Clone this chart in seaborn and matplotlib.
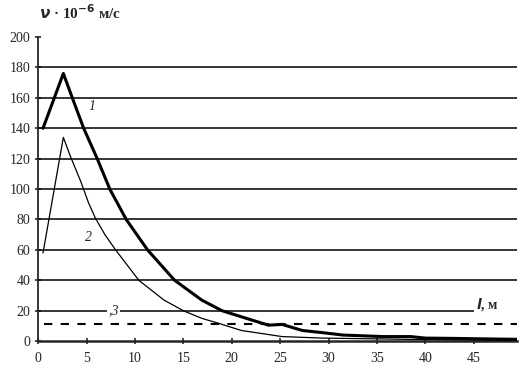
import numpy as np
import pandas as pd
import matplotlib
matplotlib.use("Agg")
import matplotlib.pyplot as plt
import seaborn as sns

# curve 1 (thick)
x1 = [0.5, 2.6, 3.7, 4.7, 6.1, 7.4, 9.1, 11.3, 14.1, 16.9, 19, 21.5, 23.8, 25.2,
      27.3, 29.5, 31.5, 35.6, 38.5, 40, 43, 46, 49.5]
y1 = [140, 176, 157, 140, 120, 100, 80, 60, 40, 27, 20, 15, 10.5, 11,
      7, 5.5, 4, 3, 3, 2, 1.8, 1.5, 1.2]
# curve 2 (thin)
x2 = [0.5, 2.6, 3.3, 4.4, 5.2, 5.9, 6.9, 8.0, 10.4, 13, 15, 16.9, 18.5, 21, 25.2, 29.4, 35, 40, 45, 49.5]
y2 = [58, 134, 122, 105, 91, 81, 70, 60, 40, 27, 20, 15, 12, 7, 3, 2, 1.5, 1, 0.8, 0.5]
# level 3 (dashed)
y3 = 11.5

grid_levels = [20, 40, 60, 80, 100, 120, 140, 160, 180]
xticks = [0, 5, 10, 15, 20, 25, 30, 35, 40, 45]
yticks = [0, 20, 40, 60, 80, 100, 120, 140, 160, 180, 200]

sns.set_style("ticks")
plt.rcParams['font.family'] = ['Liberation Serif', 'DejaVu Serif']

fig = plt.figure(figsize=(5.23, 3.70), dpi=100)
ax = fig.add_axes([0.073, 0.078, 0.916, 0.822])

xmax = 49.5
ends = [45 if g == 20 else xmax for g in grid_levels]
ax.hlines(grid_levels, 0, ends, colors='black', linewidth=1.1, zorder=1)
ax.axhline(y3, xmin=0.012, xmax=1, color='black', linewidth=1.5,
           linestyle=(0, (4, 4)), zorder=2)

d1 = pd.DataFrame({'x': x1, 'y': y1})
d2 = pd.DataFrame({'x': x2, 'y': y2})
sns.lineplot(data=d1, x='x', y='y', ax=ax, color='black', linewidth=2.2, sort=False, zorder=3)
sns.lineplot(data=d2, x='x', y='y', ax=ax, color='black', linewidth=0.9, sort=False, zorder=3)

ax.set_xlim(0, xmax)
ax.set_ylim(0, 200)
ax.set_xticks(xticks)
ax.set_yticks(yticks)
ax.tick_params(axis='both', labelsize=10, length=4, width=1.2, direction='inout')
ax.tick_params(axis='x', pad=6)
ax.set_xlabel('')
ax.set_ylabel('')
sns.despine(ax=ax)
ax.spines['left'].set_linewidth(1.3)
ax.spines['bottom'].set_linewidth(1.8)

ax.text(5.6, 154, '1', fontsize=10, style='italic', ha='center', va='center')
ax.text(5.2, 68, '2', fontsize=10, style='italic', ha='center', va='center')
ax.text(7.8, 20, ',3', fontsize=10, style='italic', ha='center', va='center',
        bbox=dict(facecolor='white', edgecolor='none', pad=1), zorder=4)
ax.text(45.2, 24, r'$\mathbfit{l}$, м', fontsize=10, fontweight='bold', ha='left', va='center')

fig.text(0.075, 0.965, r'$\mathbfit{\nu}$ · 10$^{\mathbf{-6}}$ м/с', fontsize=11,
         fontweight='bold', ha='left', va='center')

fig.savefig('out.png', dpi=100)
